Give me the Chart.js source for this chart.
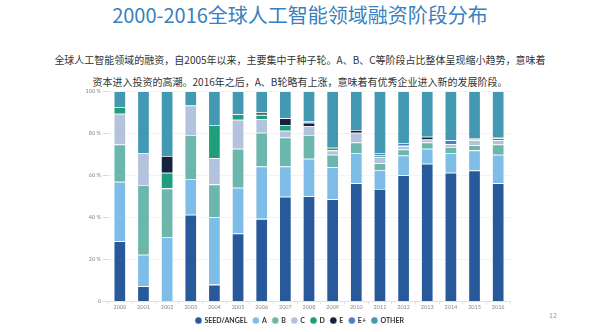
<!DOCTYPE html>
<html>
<head>
<meta charset="utf-8">
<script src="https://cdn.jsdelivr.net/npm/chart.js@4"></script>
<style>
  html, body { margin: 0; padding: 0; background: #fff; }
  body { width: 600px; height: 332px; position: relative; overflow: hidden; font-family: "Noto Sans CJK SC", "Noto Sans", sans-serif; }
  #title { position: absolute; left: 0; top: 1px; width: 600px; text-align: center; font-size: 20px; line-height: 28px; color: #3a7fc1; }
  #sub { position: absolute; left: 0; top: 49px; width: 600px; text-align: center; font-size: 10px; line-height: 22px; color: #333; }
  #page { position: absolute; left: 549px; top: 310px; font-size: 7px; color: #999; }
  #box { position: absolute; left: 0; top: 86px; width: 600px; height: 248px; }
</style>
</head>
<body>
<div id="title">2000-2016全球人工智能领域融资阶段分布</div>
<div id="sub">全球人工智能领域的融资，自2005年以来，主要集中于种子轮。A、B、C等阶段占比整体呈现缩小趋势，意味着<br>资本进入投资的高潮。2016年之后，A、B轮略有上涨，意味着有优秀企业进入新的发展阶段。</div>
<div id="page">12</div>
<div id="box"><canvas id="chart"></canvas></div>
<script>
// years on the x axis
const years = ['2000','2001','2002','2003','2004','2005','2006','2007','2008','2009','2010','2011','2012','2013','2014','2015','2016'];

// share of funding per stage, percent
const seedAngel = [28.6, 7.2, 0, 41.3, 8.0, 32.3, 39.3, 49.8, 50.1, 48.7, 56.2, 53.5, 60.1, 65.5, 61.2, 62.3, 56.2];
const roundA    = [28.4, 15.0, 30.7, 17.0, 32.1, 21.8, 24.9, 14.4, 17.8, 15.2, 14.4, 9.1, 9.4, 7.2, 9.4, 9.6, 13.6];
const roundB    = [17.7, 33.2, 23.1, 20.9, 15.6, 18.6, 16.1, 13.8, 11.3, 5.9, 5.0, 3.2, 2.8, 2.9, 2.9, 2.4, 4.9];
const roundC    = [14.6, 15.2, 0, 14.1, 12.5, 13.8, 6.4, 3.2, 4.3, 2.1, 4.7, 2.9, 1.6, 1.5, 1.3, 2.4, 2.0];
const roundD    = [3.2, 0, 7.4, 0, 15.8, 2.6, 2.1, 2.8, 0, 1.2, 0, 0.8, 0.5, 0, 0, 0.5, 1.0];
const roundE    = [0, 0, 8.0, 0, 0, 0, 1.1, 3.2, 1.5, 0, 1.3, 0, 0, 1.3, 0, 0.4, 0.2];
const roundEPlus = [0, 0, 0, 0, 0, 0, 0, 0, 0.6, 0, 0, 1.1, 1.0, 0, 1.9, 0, 0];
const other     = [7.5, 29.4, 30.8, 6.7, 16.0, 10.9, 10.1, 12.8, 14.4, 26.9, 18.4, 29.4, 24.6, 21.6, 23.3, 22.4, 22.1];

const yTicks = [0, 20, 40, 60, 80, 100];

function makeDataSet(labelText, dataList, colour){
    return {
        label: labelText,
        data: dataList,
        backgroundColor: colour,
        borderColor: 'rgba(255,255,255,0.55)',
        borderWidth: 0.8,
        barPercentage: 0.52,
        categoryPercentage: 1.0
    };
}

const datasets = [
    makeDataSet('SEED/ANGEL', seedAngel, '#285a9b'),
    makeDataSet('A', roundA, '#7dbde7'),
    makeDataSet('B', roundB, '#6bb7ac'),
    makeDataSet('C', roundC, '#b3c3dd'),
    makeDataSet('D', roundD, '#1f9e7c'),
    makeDataSet('E', roundE, '#14213f'),
    makeDataSet('E+', roundEPlus, '#4b80c2'),
    makeDataSet('OTHER', other, '#4399b1')
];

const tickFont = { family: 'Lato, "Noto Sans", sans-serif', size: 5.5 };

new Chart(document.getElementById('chart'), {
    type: 'bar',
    data: { labels: years, datasets: datasets },
    options: {
        responsive: true,
        maintainAspectRatio: false,
        animation: false,
        layout: { padding: { top: 3, bottom: 0, left: 0, right: 0 } },
        plugins: {
            tooltip: { enabled: false },
            legend: {
                position: 'bottom',
                labels: {
                    usePointStyle: true,
                    pointStyle: 'circle',
                    boxWidth: 5,
                    boxHeight: 5,
                    padding: 6,
                    color: '#333',
                    font: { family: 'Lato, "Noto Sans", sans-serif', size: 7, weight: 'bold' }
                }
            }
        },
        scales: {
            x: {
                stacked: true,
                grid: { display: true, drawOnChartArea: false, offset: true, color: '#dde2e8', tickLength: 3 },
                border: { display: true, color: '#dde2e8' },
                ticks: { color: '#888', font: tickFont, padding: 0, maxRotation: 0 }
            },
            y: {
                stacked: true,
                min: 0,
                max: 100,
                afterBuildTicks: function(scale){ scale.ticks = yTicks.map(v => ({ value: v })); },
                afterFit: function(scale){ scale.width = 108; },
                grid: { color: '#f1f3f5', tickLength: 5, tickColor: '#d5d9de' },
                border: { display: false },
                ticks: {
                    color: '#888',
                    font: tickFont,
                    padding: 2,
                    callback: function(v){ return v === 0 ? '0' : v + ' %'; }
                }
            },
            pad: {
                position: 'right',
                display: true,
                grid: { display: false },
                border: { display: false },
                ticks: { display: false },
                afterFit: function(scale){ scale.width = 90; }
            }
        }
    }
});
</script>
</body>
</html>
